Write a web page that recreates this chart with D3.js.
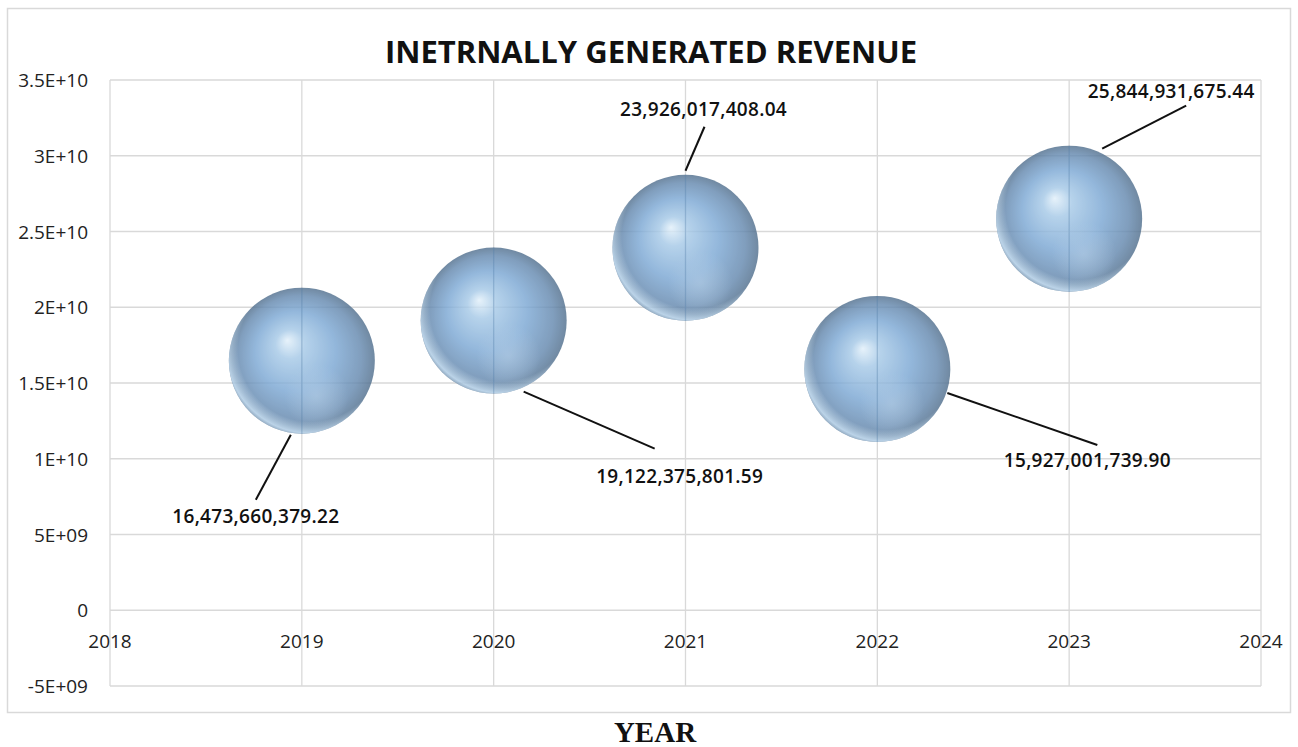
<!DOCTYPE html>
<html>
<head>
<meta charset="utf-8">
<script src="https://cdn.jsdelivr.net/npm/d3@7"></script>
<style>
  body { margin: 0; background: #fff; }
  svg text { font-family: "Open Sans", "DejaVu Sans", sans-serif; }
</style>
</head>
<body>
<svg id="chart" width="1298" height="747"></svg>
<script>
// data
var years = [2019, 2020, 2021, 2022, 2023];
var revenue = [16473660379.22, 19122375801.59, 23926017408.04, 15927001739.90, 25844931675.44];
var labels = ["16,473,660,379.22", "19,122,375,801.59", "23,926,017,408.04", "15,927,001,739.90", "25,844,931,675.44"];
var xTicks = [2018, 2019, 2020, 2021, 2022, 2023, 2024];
var yTicks = [-5e9, 0, 5e9, 1e10, 1.5e10, 2e10, 2.5e10, 3e10, 3.5e10];
var yTickLabels = ["-5E+09", "0", "5E+09", "1E+10", "1.5E+10", "2E+10", "2.5E+10", "3E+10", "3.5E+10"];

// leader line / label placement (pixels from bubble centre)
var labelPos = [
  {x1: -11, y1: 74, x2: -46, y2: 139, tx: -46, ty: 162},
  {x1: 30, y1: 71, x2: 161, y2: 128, tx: 186, ty: 162},
  {x1: 0, y1: -77, x2: 19, y2: -121, tx: 18, ty: -132},
  {x1: 70, y1: 24, x2: 220, y2: 76, tx: 210, ty: 98},
  {x1: 33, y1: -70, x2: 117, y2: -113, tx: 102, ty: -121}
];

var svg = d3.select("#chart");
var plotL = 110, plotR = 1261, plotT = 80, plotB = 686;

var x = d3.scaleLinear().domain([2018, 2024]).range([plotL, plotR]);
var y = d3.scaleLinear().domain([-5e9, 3.5e10]).range([plotB, plotT]);

// outer chart border
svg.append("rect")
  .attr("x", 7.5).attr("y", 8.5)
  .attr("width", 1283).attr("height", 704)
  .attr("fill", "#fff").attr("stroke", "#d9d9d9").attr("stroke-width", 1.5);

// gradients for the 3d bubbles
var defs = svg.append("defs");
var grad = defs.append("radialGradient")
  .attr("id", "ball")
  .attr("cx", "50%").attr("cy", "50%").attr("r", "50%")
  .attr("fx", "40%").attr("fy", "36%");
grad.append("stop").attr("offset", "0%").attr("stop-color", "#e2f0fa");
grad.append("stop").attr("offset", "20%").attr("stop-color", "#a6c9e7");
grad.append("stop").attr("offset", "55%").attr("stop-color", "#7ca8d4");
grad.append("stop").attr("offset", "85%").attr("stop-color", "#6589af");
grad.append("stop").attr("offset", "100%").attr("stop-color", "#52708e");

// soft reflected light low on the ball
var low = defs.append("radialGradient")
  .attr("id", "low")
  .attr("cx", "60%").attr("cy", "74%").attr("r", "22%");
low.append("stop").attr("offset", "0%").attr("stop-color", "#a8c6e2").attr("stop-opacity", 0.55);
low.append("stop").attr("offset", "100%").attr("stop-color", "#a8c6e2").attr("stop-opacity", 0);

var rim = defs.append("radialGradient")
  .attr("id", "rim")
  .attr("cx", "56%").attr("cy", "42%").attr("r", "62%");
rim.append("stop").attr("offset", "80%").attr("stop-color", "#bcd9f1").attr("stop-opacity", 0);
rim.append("stop").attr("offset", "93%").attr("stop-color", "#bcd9f1").attr("stop-opacity", 0.85);
rim.append("stop").attr("offset", "100%").attr("stop-color", "#bcd9f1").attr("stop-opacity", 0);

// gridlines
var grid = svg.append("g");
grid.selectAll("line.h").data(yTicks).enter().append("line")
  .attr("x1", plotL).attr("x2", plotR)
  .attr("y1", function(d) { return y(d); })
  .attr("y2", function(d) { return y(d); })
  .attr("stroke", "#d9d9d9").attr("stroke-width", 1.3);
grid.selectAll("line.v").data(xTicks).enter().append("line")
  .attr("y1", plotT).attr("y2", plotB)
  .attr("x1", function(d) { return x(d); })
  .attr("x2", function(d) { return x(d); })
  .attr("stroke", "#d9d9d9").attr("stroke-width", 1.3);

// y axis labels
svg.selectAll("text.ylab").data(yTicks).enter().append("text")
  .attr("x", plotL - 22)
  .attr("y", function(d) { return y(d) + 7; })
  .attr("text-anchor", "end")
  .attr("font-size", 19).attr("fill", "#222")
  .text(function(d, i) { return yTickLabels[i]; });

// x axis labels (sit under the zero line)
svg.selectAll("text.xlab").data(xTicks).enter().append("text")
  .attr("x", function(d) { return x(d); })
  .attr("y", y(0) + 38)
  .attr("text-anchor", "middle")
  .attr("font-size", 19).attr("fill", "#222")
  .text(function(d) { return d; });

// bubbles, a little see-through like the original
var r = 73;
var balls = svg.append("g").selectAll("g").data(years).enter().append("g")
  .attr("transform", function(d, i) { return "translate(" + x(d) + "," + y(revenue[i]) + ")"; });
var ball = balls.append("g").attr("opacity", 0.82);
ball.append("circle").attr("r", r).attr("fill", "url(#ball)");
ball.append("circle").attr("r", r).attr("fill", "url(#low)");
ball.append("circle").attr("r", r).attr("fill", "url(#rim)");

// gridlines show faintly through the balls in the original
balls.append("line")
  .attr("x1", 0).attr("x2", 0)
  .attr("y1", -r).attr("y2", r)
  .attr("stroke", "#5f8ab5").attr("stroke-opacity", 0.35).attr("stroke-width", 1.3);

// leader lines + data labels
balls.append("line")
  .attr("x1", function(d, i) { return labelPos[i].x1; })
  .attr("y1", function(d, i) { return labelPos[i].y1; })
  .attr("x2", function(d, i) { return labelPos[i].x2; })
  .attr("y2", function(d, i) { return labelPos[i].y2; })
  .attr("stroke", "#111").attr("stroke-width", 2);
balls.append("text")
  .attr("x", function(d, i) { return labelPos[i].tx; })
  .attr("y", function(d, i) { return labelPos[i].ty; })
  .attr("text-anchor", "middle")
  .attr("font-size", 19).attr("font-weight", 600).attr("fill", "#111")
  .attr("letter-spacing", 0.3)
  .text(function(d, i) { return labels[i]; });

// title
svg.append("text")
  .attr("x", 651).attr("y", 63)
  .attr("text-anchor", "middle")
  .attr("font-size", 31).attr("font-weight", "bold").attr("fill", "#111")
  .text("INETRNALLY GENERATED REVENUE");

// axis title under the chart box
svg.append("text")
  .attr("x", 655).attr("y", 742)
  .attr("text-anchor", "middle")
  .style("font-family", "'Liberation Serif', 'DejaVu Serif', serif")
  .attr("font-size", 29).attr("font-weight", "bold").attr("fill", "#111")
  .text("YEAR");
</script>
</body>
</html>
